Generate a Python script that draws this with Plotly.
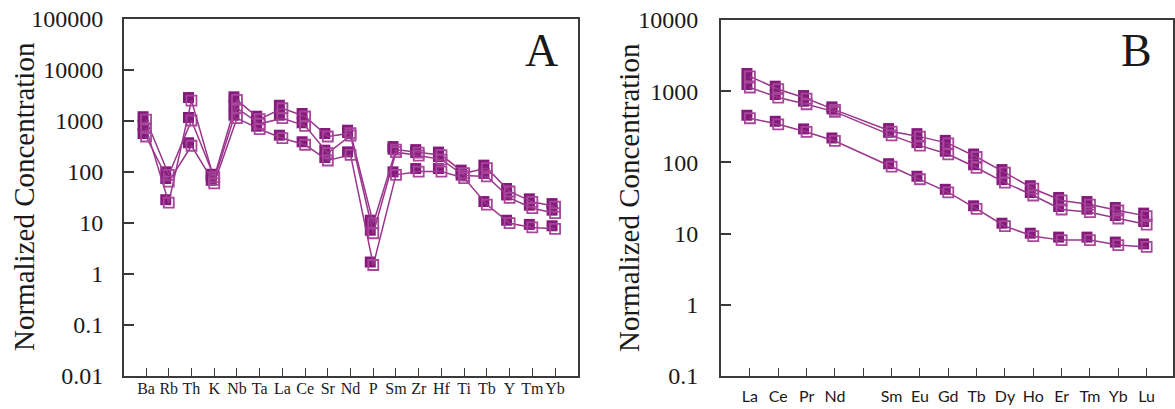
import plotly.graph_objects as go

W, H = 1175, 409

# ---------------- Panel A data (spider diagram) ----------------
A_ELEMENTS = ["Ba", "Rb", "Th", "K", "Nb", "Ta", "La", "Ce", "Sr", "Nd",
              "P", "Sm", "Zr", "Hf", "Ti", "Tb", "Y", "Tm", "Yb"]
A_SAMPLE1 = [1060, 88, 1023, 79, 2600, 1085, 1780, 1225, 497, 577,
             9.9, 275, 240, 215, 95, 119, 41.5, 26, 21]
A_SAMPLE2 = [725, 25, 2520, 71, 1780, 880, 1135, 805, 234, 520,
             6.3, 245, 210, 175, 85, 82, 31, 19.5, 15.6]
A_SAMPLE3 = [497, 65, 327, 60, 1135, 690, 460, 342, 168, 217,
             1.5, 88, 102, 102, 76, 23, 9.9, 8.2, 7.7]
A_YTICKS = [0.01, 0.1, 1, 10, 100, 1000, 10000, 100000]
A_YTEXT = ["0.01", "0.1", "1", "10", "100", "1000", "10000", "100000"]

# ---------------- Panel B data (REE diagram) ----------------
B_ELEMENTS = ["La", "Ce", "Pr", "Nd", "Pm", "Sm", "Eu", "Gd", "Tb", "Dy",
              "Ho", "Er", "Tm", "Yb", "Lu"]
B_LABELS = ["La", "Ce", "Pr", "Nd", "", "Sm", "Eu", "Gd", "Tb", "Dy",
            "Ho", "Er", "Tm", "Yb", "Lu"]
B_SAMPLE1 = [1610, 1067, 789, 547, None, 271, 230, 185, 119, 72,
             42.7, 29.2, 25.6, 21.1, 17.6]
B_SAMPLE2 = [1128, 815, 656, 513, None, 240, 172, 130, 84, 52,
             34.3, 21.8, 20, 16.3, 13.4]
B_SAMPLE3 = [417, 343, 268, 200, None, 87, 58, 38, 22.3, 12.7,
             9.2, 8.1, 8.1, 6.9, 6.5]
B_YTICKS = [0.1, 1, 10, 100, 1000, 10000]
B_YTEXT = ["0.1", "1", "10", "100", "1000", "10000"]

FILL = "#861a7c"
OPEN = "#a6479a"
LINE = "#9a358c"
AXC = "#3a3a3a"
TXT = "#1a1a1a"


def xdom(x0, x1, dx=0):
    return [(x0 + dx) / W, (x1 + dx) / W]


def ydom(y0, y1, dy=0):
    return [1 - (y1 + dy) / H, 1 - (y0 + dy) / H]


SHIFT = 3  # filled square sits up-left of the open square

fig = go.Figure()

# Panel A geometry
A_BOX = (124, 578, 19, 376)
A_XRANGE = [-0.97, 19.01]
A_YRANGE = [-2, 5]
# Panel B geometry
B_BOX = (721, 1173, 20, 376)
B_XRANGE = [-1.02, 14.93]
B_YRANGE = [-1, 4]

ax_idx = list(range(len(A_ELEMENTS)))
bx_idx = list(range(len(B_ELEMENTS)))

# filled markers (bottom layer), panel A -> x/y
for s in [A_SAMPLE1, A_SAMPLE2, A_SAMPLE3]:
    fig.add_trace(go.Scatter(x=ax_idx, y=s, mode="markers", xaxis="x", yaxis="y",
                             marker=dict(symbol="square", size=11, color=FILL,
                                         line=dict(width=0)),
                             showlegend=False, hoverinfo="skip"))
# open markers + lines, panel A -> x2/y2
for s in [A_SAMPLE1, A_SAMPLE2, A_SAMPLE3]:
    fig.add_trace(go.Scatter(x=ax_idx, y=s, mode="lines+markers", xaxis="x2", yaxis="y2",
                             line=dict(color=LINE, width=1.5),
                             marker=dict(symbol="square-open", size=10, color=OPEN,
                                         line=dict(width=1.8, color=OPEN)),
                             showlegend=False))
# filled markers panel B -> x3/y3
for s in [B_SAMPLE1, B_SAMPLE2, B_SAMPLE3]:
    fig.add_trace(go.Scatter(x=bx_idx, y=s, mode="markers", xaxis="x3", yaxis="y3",
                             marker=dict(symbol="square", size=11, color=FILL,
                                         line=dict(width=0)),
                             showlegend=False, hoverinfo="skip"))
# open markers + lines panel B -> x4/y4
for s in [B_SAMPLE1, B_SAMPLE2, B_SAMPLE3]:
    fig.add_trace(go.Scatter(x=bx_idx, y=s, mode="lines+markers", xaxis="x4", yaxis="y4",
                             connectgaps=True,
                             line=dict(color=LINE, width=1.5),
                             marker=dict(symbol="square-open", size=10, color=OPEN,
                                         line=dict(width=1.8, color=OPEN)),
                             showlegend=False))

hidden = dict(visible=False, showgrid=False, zeroline=False, fixedrange=True,
              automargin=False)

serif = "Liberation Serif, Times New Roman, serif"
sans = "Lato, DejaVu Sans, sans-serif"

fig.update_layout(
    template="none",
    width=W, height=H,
    margin=dict(l=0, r=0, t=0, b=0, pad=0),
    paper_bgcolor="white",
    plot_bgcolor="rgba(0,0,0,0)",
    xaxis=dict(domain=xdom(A_BOX[0], A_BOX[1], -SHIFT), range=A_XRANGE, anchor="y", **hidden),
    yaxis=dict(domain=ydom(A_BOX[2], A_BOX[3], -SHIFT), range=A_YRANGE, type="log",
               anchor="x", **hidden),
    xaxis2=dict(domain=xdom(A_BOX[0], A_BOX[1]), range=A_XRANGE, anchor="y2",
                automargin=False, tickangle=0,
                tickmode="array", tickvals=ax_idx, ticktext=A_ELEMENTS,
                ticks="inside", ticklen=8, tickwidth=1.3, tickcolor=AXC,
                showline=True, linecolor=AXC, linewidth=1.6, mirror=True,
                showgrid=False, zeroline=False, ticklabelstandoff=-3,
                tickfont=dict(family=serif, size=16, color=TXT)),
    yaxis2=dict(domain=ydom(A_BOX[2], A_BOX[3]), range=A_YRANGE, type="log", anchor="x2",
                automargin=False,
                tickmode="array", tickvals=A_YTICKS, ticktext=A_YTEXT,
                ticks="inside", ticklen=10, tickwidth=1.5, tickcolor=AXC,
                showline=True, linecolor=AXC, linewidth=2, mirror=True,
                showgrid=False, zeroline=False, ticklabelstandoff=14,
                tickfont=dict(family=serif, size=24, color=TXT)),
    xaxis3=dict(domain=xdom(B_BOX[0], B_BOX[1], -SHIFT), range=B_XRANGE, anchor="y3", **hidden),
    yaxis3=dict(domain=ydom(B_BOX[2], B_BOX[3], -SHIFT), range=B_YRANGE, type="log",
                anchor="x3", **hidden),
    xaxis4=dict(domain=xdom(B_BOX[0], B_BOX[1]), range=B_XRANGE, anchor="y4",
                automargin=False, tickangle=0,
                tickmode="array", tickvals=bx_idx, ticktext=B_LABELS,
                ticks="inside", ticklen=8, tickwidth=1.3, tickcolor=AXC,
                showline=True, linecolor=AXC, linewidth=1.6, mirror=True,
                showgrid=False, zeroline=False, ticklabelstandoff=5,
                tickfont=dict(family=sans, size=16, color=TXT)),
    yaxis4=dict(domain=ydom(B_BOX[2], B_BOX[3]), range=B_YRANGE, type="log", anchor="x4",
                automargin=False,
                tickmode="array", tickvals=B_YTICKS, ticktext=B_YTEXT,
                ticks="inside", ticklen=10, tickwidth=1.5, tickcolor=AXC,
                showline=True, linecolor=AXC, linewidth=2, mirror=True,
                showgrid=False, zeroline=False, ticklabelstandoff=16,
                tickfont=dict(family=serif, size=24, color=TXT)),
)

annotations = [
    dict(text="Normalized Concentration", x=24 / W, y=1 - 197 / H, xref="paper", yref="paper",
         textangle=-90, showarrow=False, xanchor="center", yanchor="middle",
         font=dict(family=serif, size=29, color=TXT)),
    dict(text="Normalized Concentration", x=629 / W, y=1 - 197 / H, xref="paper", yref="paper",
         textangle=-90, showarrow=False, xanchor="center", yanchor="middle",
         font=dict(family=serif, size=29, color=TXT)),
    dict(text="A", x=541 / W, y=1 - 51 / H, xref="paper", yref="paper", showarrow=False,
         xanchor="center", yanchor="middle", font=dict(family=serif, size=46, color=TXT)),
    dict(text="B", x=1136 / W, y=1 - 51 / H, xref="paper", yref="paper", showarrow=False,
         xanchor="center", yanchor="middle", font=dict(family=serif, size=46, color=TXT)),
]
fig.update_layout(annotations=annotations)

fig.write_html("out.html", config={"displayModeBar": False},
               post_script="document.body.style.margin='0';document.body.style.overflow='hidden';")
